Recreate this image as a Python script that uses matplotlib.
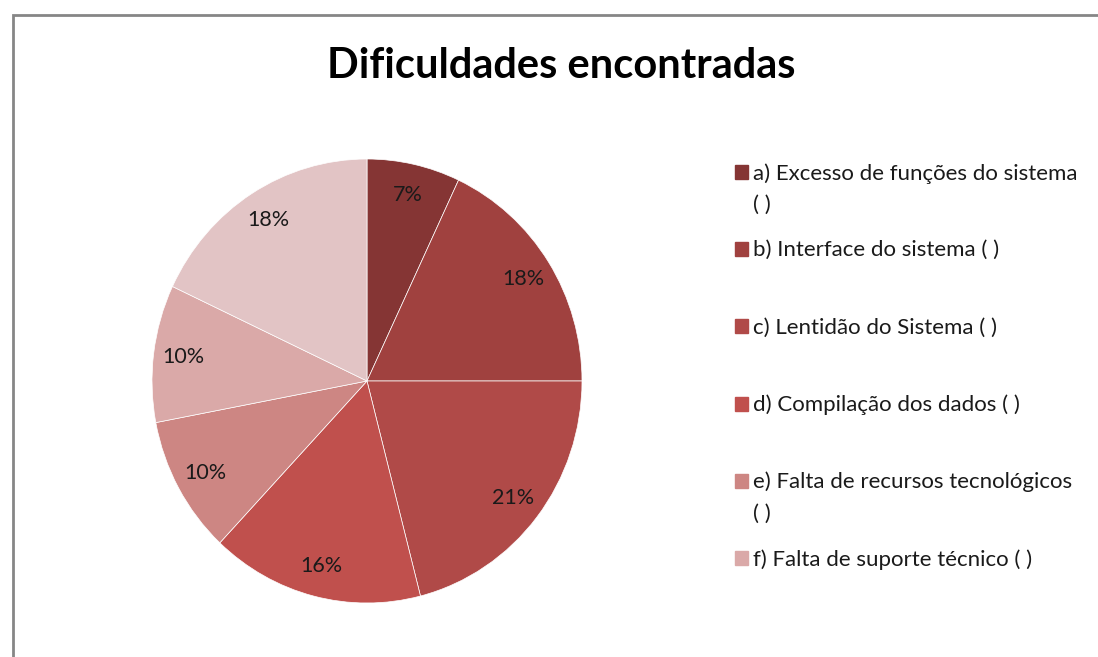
import matplotlib.pyplot as plt
from matplotlib.patches import Rectangle

# dados do gráfico
valores = [7, 18, 21, 16, 10, 10, 18]
cores = ['#853534', '#A0413F', '#B04A48', '#C0504D', '#CD8683', '#DAA9A8', '#E2C4C5']
legendas = ['a) Excesso de funções do sistema\n( )',
            'b) Interface do sistema ( )',
            'c) Lentidão do Sistema ( )',
            'd) Compilação dos dados ( )',
            'e) Falta de recursos tecnológicos\n( )',
            'f) Falta de suporte técnico ( )']
titulo = 'Dificuldades encontradas'

plt.rcParams['font.family'] = ['Lato', 'DejaVu Sans']

W, H = 1098, 657
fig = plt.figure(figsize=(W / 100, H / 100), dpi=100)

# moldura cinza do gráfico
fig.patches.append(Rectangle((13 / W, -0.1), 1.2, (H - 15) / H + 0.1,
                             transform=fig.transFigure, fill=False,
                             edgecolor='#868686', linewidth=2))

cx, cy, rx, ry = 367, 381, 215, 222
ax = fig.add_axes([(cx - rx) / W, (H - cy - ry) / H, 2 * rx / W, 2 * ry / H])
wedges, _, autotexts = ax.pie(valores, colors=cores, startangle=90, counterclock=False,
                              autopct='%d%%', pctdistance=0.86, radius=1,
                              wedgeprops=dict(edgecolor='white', linewidth=0.5),
                              textprops=dict(fontsize=15.5, color='#1a1a1a'))
ax.set_aspect('auto')
ax.set_xlim(-1, 1)
ax.set_ylim(-1, 1)

fig.text(561 / W, 1 - 66 / H, titulo, ha='center', va='center',
         fontsize=30, fontweight='bold', color='black')

# legenda
y0 = 172
passo = 77.2
for i, (lab, cor) in enumerate(zip(legendas, cores)):
    y = y0 + i * passo
    fig.patches.append(Rectangle((735 / W, 1 - (y + 7) / H), 13 / W, 14 / H,
                                 transform=fig.transFigure, color=cor))
    fig.text(753 / W, 1 - (y - 9) / H, lab, ha='left', va='top',
             fontsize=16, color='#1a1a1a', linespacing=1.7)

fig.savefig('out.png', dpi=100)
